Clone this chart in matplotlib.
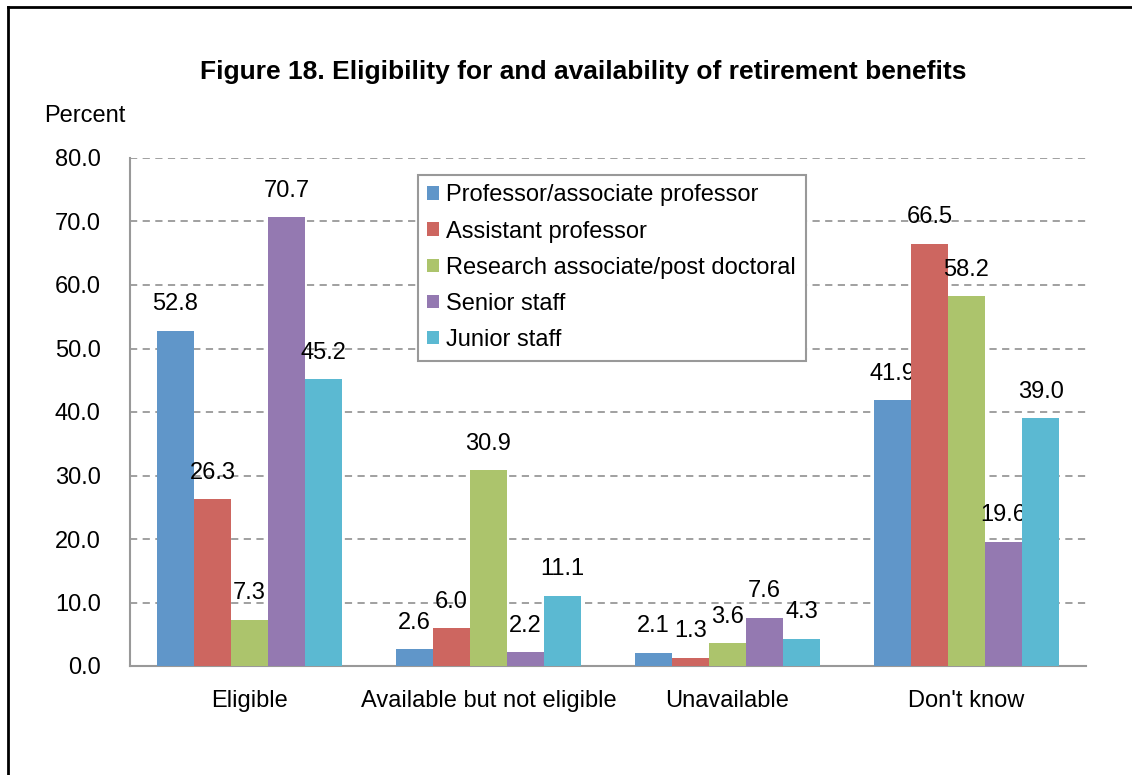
import numpy as np
import matplotlib.pyplot as plt
from matplotlib.lines import Line2D

plt.rcParams['font.family'] = ['Liberation Sans', 'DejaVu Sans']

categories = ["Eligible", "Available but not eligible", "Unavailable", "Don't know"]
groups = ["Professor/associate professor", "Assistant professor",
          "Research associate/post doctoral", "Senior staff", "Junior staff"]
prof = [52.8, 2.6, 2.1, 41.9]
asst = [26.3, 6.0, 1.3, 66.5]
research = [7.3, 30.9, 3.6, 58.2]
senior = [70.7, 2.2, 7.6, 19.6]
junior = [45.2, 11.1, 4.3, 39.0]
series = [prof, asst, research, senior, junior]
colors = ["#6096C9", "#CD6660", "#ACC46C", "#9479B1", "#5BB9D2"]

W, H = 1132, 775
fig = plt.figure(figsize=(W / 100, H / 100), dpi=100)
ax = fig.add_axes([130 / W, 1 - 666 / H, (1086 - 130) / W, (666 - 158) / H])

x = np.arange(len(categories))
bw = 0.155
for i, (vals, c, name) in enumerate(zip(series, colors, groups)):
    pos = x + (i - 2) * bw
    ax.bar(pos, vals, bw, color=c, label=name, zorder=3)
    for p, v in zip(pos, vals):
        ax.annotate(f"{v:.1f}", (p, v), xytext=(0, 11), textcoords="offset points",
                    ha="center", va="bottom", fontsize=17)

ax.set_xlim(-0.5, 3.5)
ax.set_ylim(0, 80)
ax.set_yticks(np.arange(0, 81, 10))
ax.set_yticklabels([f"{v:.1f}" for v in np.arange(0, 81, 10)], fontsize=17)
ax.set_xticks(x)
ax.set_xticklabels(categories, fontsize=17)
ax.tick_params(axis="both", length=0)
ax.tick_params(axis="y", pad=21)
ax.tick_params(axis="x", pad=17)
ax.yaxis.grid(True, linestyle=(0, (4, 3)), color="#999999", linewidth=1.3, zorder=0)
for s in ["top", "right"]:
    ax.spines[s].set_visible(False)
for s in ["left", "bottom"]:
    ax.spines[s].set_color("#999999")
    ax.spines[s].set_linewidth(1.5)

fig.text(583 / W, 1 - 72 / H, "Figure 18. Eligibility for and availability of retirement benefits",
         ha="center", va="center", fontsize=19, fontweight="bold")
fig.text(44 / W, 1 - 116 / H, "Percent", ha="left", va="center", fontsize=17)

leg = ax.legend(loc="upper left", bbox_to_anchor=(418 / W, 1 - 175 / H),
                bbox_transform=fig.transFigure, fontsize=17, fancybox=False,
                edgecolor="#999999", framealpha=1, handlelength=0.5, handleheight=0.5,
                handletextpad=0.3, labelspacing=0.6, borderaxespad=0, borderpad=0.4)
leg.get_frame().set_linewidth(1.5)

# outer frame (only left and top edges visible)
fig.add_artist(Line2D([8 / W, 8 / W], [0, 1 - 7 / H], color="black", linewidth=2,
                      transform=fig.transFigure))
fig.add_artist(Line2D([8 / W, 1], [1 - 7 / H, 1 - 7 / H], color="black", linewidth=2,
                      transform=fig.transFigure))

fig.savefig("out.png", dpi=100)
